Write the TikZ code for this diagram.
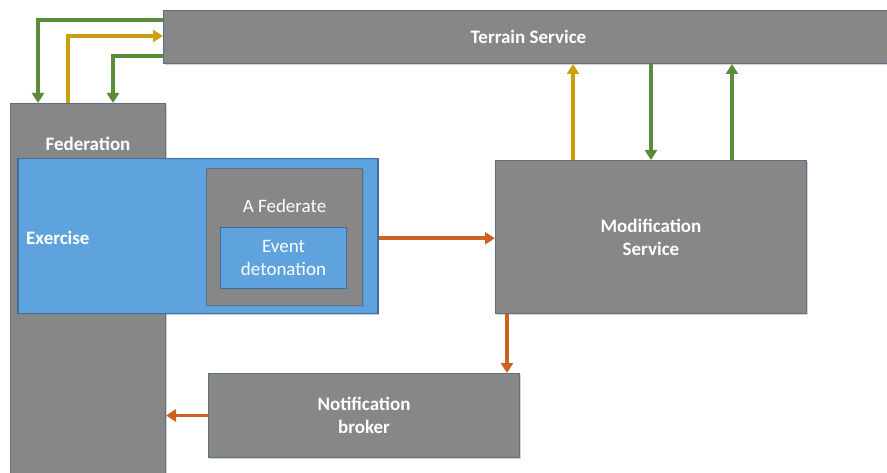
\documentclass[tikz,border=0pt]{standalone}
\usepackage{fontspec}
\setmainfont{Carlito}
\usetikzlibrary{arrows.meta,positioning,shadows}
\definecolor{boxgray}{HTML}{878787}
\definecolor{boxedge}{HTML}{5B6F85}
\definecolor{exblue}{HTML}{5FA3DE}
\definecolor{exedge}{HTML}{3E6E9C}
\definecolor{flowgreen}{HTML}{5B8C3A}
\definecolor{flowyellow}{HTML}{CF9E0C}
\definecolor{floworange}{HTML}{C9631E}
\tikzset{>/.tip={Triangle[width=12pt,length=10pt]}}
\tikzset{box/.style={draw=boxedge,line width=1pt,fill=boxgray,text=white,align=center,
    inner sep=0pt,anchor=north west,font=\fontsize{19}{23}\selectfont\bfseries,
    drop shadow={shadow xshift=1.5pt,shadow yshift=-1.5pt,opacity=.35}}}
\tikzset{bluebox/.style={box,draw=exedge,line width=1.5pt,fill=exblue}}
\tikzset{flow/.style={->,line width=4pt}}
\tikzset{inlabel/.style={text=white,inner sep=0pt,font=\fontsize{19}{23}\selectfont\bfseries}}

\begin{document}
\begin{tikzpicture}[x=1pt,y=-1pt]
        \useasboundingbox (0,0) rectangle (887,473);
        % boxes
        \node(terrain)[box,minimum width=730pt,minimum height=53pt] at (163,10) {Terrain Service};
        \node(fed)[box,minimum width=155pt,minimum height=380pt,
          label={[inlabel,anchor=north,yshift=-34pt]north:Federation}] at (10,103) {};
        \node(exercise)[bluebox,minimum width=360pt,minimum height=155pt,
          label={[inlabel,anchor=west,xshift=9pt,yshift=-2pt]west:Exercise}] at (17,158) {};
        \node(federate)[box,minimum width=156pt,minimum height=137pt,
          label={[inlabel,font=\fontsize{19}{23}\selectfont,anchor=north,yshift=-31pt]north:A Federate}] at (206,168) {};
        \node(event)[bluebox,line width=1pt,minimum width=126pt,minimum height=61pt,
          font=\fontsize{19}{23}\selectfont] at (220,227) {Event\\detonation};
        \node(mod)[box,minimum width=311pt,minimum height=153pt] at (495,160) {Modification\\Service};
        \node(notif)[box,minimum width=311pt,minimum height=84pt] at (208,373) {Notification\\broker};
        % federation <-> terrain
        \draw[flow,flowgreen] ([yshift=-10pt]terrain.north west) -| ([xshift=28pt]fed.north west);
        \draw[flow,flowyellow] ([xshift=58pt]fed.north west) |- ([yshift=-26pt]terrain.north west);
        \draw[flow,flowgreen] ([yshift=-46pt]terrain.north west) -| ([xshift=103pt]fed.north west);
        % modification <-> terrain
        \coordinate(m1) at ([xshift=78pt]mod.north west);
        \coordinate(m2) at ([xshift=156pt]mod.north west);
        \coordinate(m3) at ([xshift=237pt]mod.north west);
        \coordinate(m4) at ([xshift=12pt]mod.south west);
        \draw[flow,flowyellow] (m1) -- (m1 |- terrain.south);
        \draw[flow,flowgreen] (m2 |- terrain.south) -- (m2);
        \draw[flow,flowgreen] (m3) -- (m3 |- terrain.south);
        % event flow
        \draw[flow,floworange,line width=3.5pt] ([yshift=-2pt]exercise.east) -- ([yshift=-2pt]exercise.east -| mod.west);
        \draw[flow,floworange,line width=3.5pt] (m4) -- (m4 |- notif.north);
        \draw[flow,floworange,line width=3.5pt] (notif.west) -- (notif.west -| fed.east);
      \end{tikzpicture}
\end{document}
